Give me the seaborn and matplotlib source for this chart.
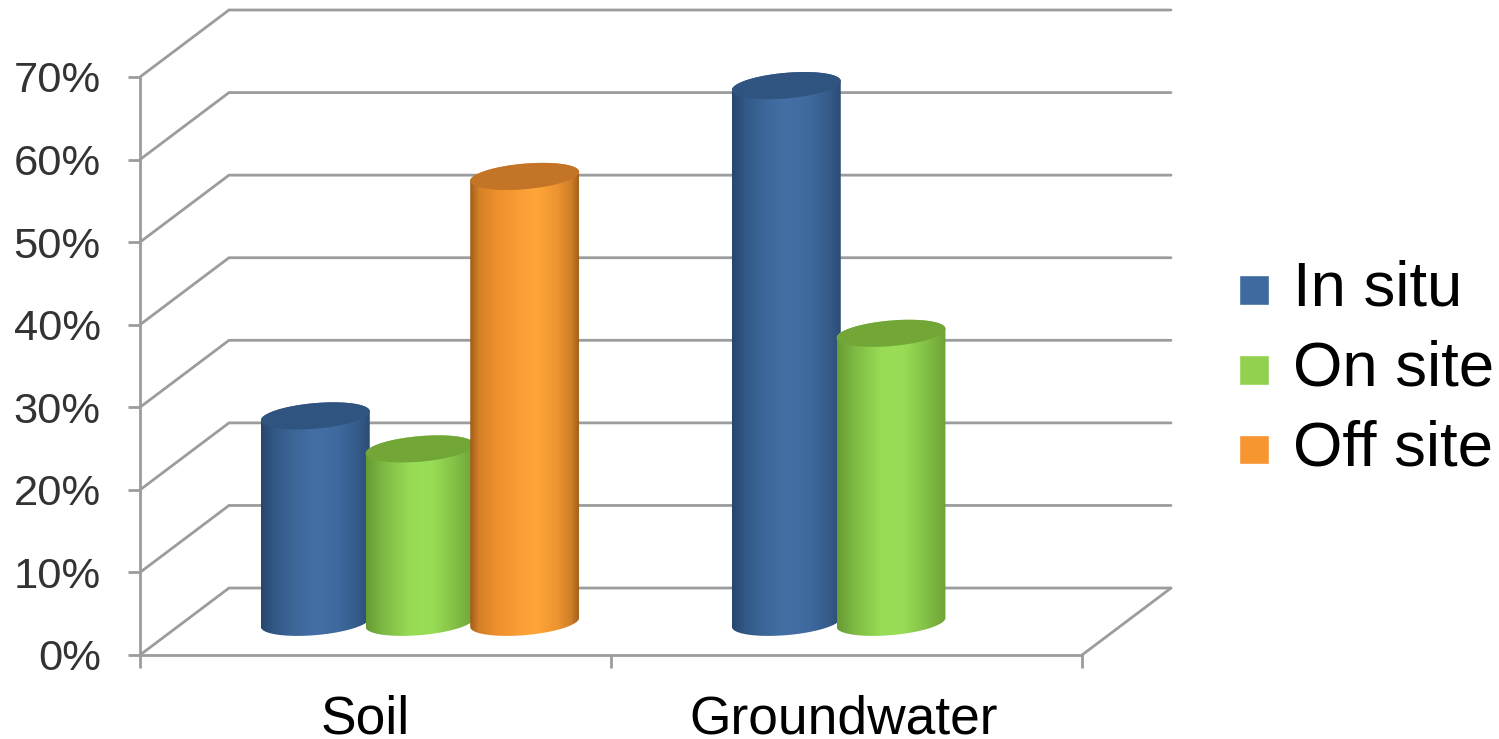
import numpy as np
import pandas as pd
import matplotlib
matplotlib.use("Agg")
import matplotlib.pyplot as plt
from matplotlib.colors import LinearSegmentedColormap
from matplotlib.path import Path
from matplotlib.patches import PathPatch
from matplotlib.transforms import ScaledTranslation
import seaborn as sns

# Share of remediation approaches by medium, in percent
categories = ["Soil", "Groundwater"]
in_situ = [25, 65]
on_site = [21, 35]
off_site = [54, np.nan]
series = ["In situ", "On site", "Off site"]
y_ticks = [0, 10, 20, 30, 40, 50, 60, 70]
y_labels = ["0%", "10%", "20%", "30%", "40%", "50%", "60%", "70%"]

# Flat colours (legend), cylinder shading stops and cap colours per series
flat_colors = ["#3F6A9F", "#92D050", "#F79530"]
shades = [
    [(0, "#27466E"), (.12, "#325885"), (.3, "#3D6799"), (.5, "#446FA6"),
     (.7, "#3F6A9F"), (.9, "#345A88"), (1, "#2B4C76")],
    [(0, "#669B33"), (.15, "#7CB843"), (.4, "#98DB55"), (.6, "#9ADE57"),
     (.8, "#85C348"), (1, "#6FA338")],
    [(0, "#A05C18"), (.08, "#D57F28"), (.25, "#F0902D"), (.6, "#FFA63A"),
     (.8, "#EE9430"), (.93, "#CF7F28"), (1, "#A3601B")],
]
cap_colors = ["#2F5480", "#72A738", "#C47426"]

GRID = "#9C9C9C"
LW = 2.0
DEPTH_X = 89 / 471      # depth of the floor in category units
DEPTH_Y = 8.11          # depth of the floor in percent units

sns.set_style("white")
plt.rcParams["font.family"] = ["Liberation Sans", "DejaVu Sans"]

df = pd.DataFrame({
    "medium": categories * 3,
    "method": [s for s in series for _ in categories],
    "share": in_situ + on_site + off_site,
})

fig = plt.figure(figsize=(14.99, 7.39), dpi=100, facecolor="white")
ax = fig.add_axes([140 / 1499, (739 - 655) / 739, (1171 - 140) / 1499, (655 - 10) / 739])

sns.barplot(data=df, x="medium", y="share", hue="method", order=categories,
            hue_order=series, palette=flat_colors, width=2 / 3, gap=0,
            saturation=1, ax=ax)

x_lo, x_hi = -0.5, 1.5
y_top = max(y_ticks)


def ellipse(cx, cy, a, t):
    """Points of a sheared ellipse, the rim of a cylinder seen from above-left."""
    b, shear = 1.55, 0.545
    return np.column_stack([cx + a * np.cos(t), cy + b * np.sin(t) + shear * np.cos(t)])


# Cylinders stand halfway back on the floor; later series sit in front
z = 4
for s_idx, container in enumerate(ax.containers):
    cmap = LinearSegmentedColormap.from_list(f"shade{s_idx}", shades[s_idx])
    for bar in container:
        h = bar.get_height()
        if not np.isfinite(h):
            bar.set_visible(False)
            continue
        cx = bar.get_x() + bar.get_width() / 2 + DEPTH_X / 2
        base = DEPTH_Y / 2 - 0.1
        a = bar.get_width() * 0.52
        bar.set_x(cx - bar.get_width() / 2)
        bar.set_y(base)
        low = ellipse(cx, base, a, np.linspace(np.pi, 2 * np.pi, 80))
        high = ellipse(cx, base + h, a, np.linspace(0, np.pi, 80))
        outline = np.vstack([low, high, low[:1]])
        body = Path(outline, closed=True)
        bar.set_zorder(z)
        bar.set_clip_path(body, transform=ax.transData)
        img = ax.imshow(np.linspace(0, 1, 256)[None, :], cmap=cmap, aspect="auto",
                        extent=[cx - a, cx + a, base - 3, base + h + 3], origin="lower",
                        zorder=z + 0.1, interpolation="bilinear")
        img.set_clip_path(body, transform=ax.transData)
        rim = ellipse(cx, base + h, a, np.linspace(0, 2 * np.pi, 160))
        ax.add_patch(PathPatch(Path(rim, closed=True), facecolor=cap_colors[s_idx],
                               edgecolor="none", zorder=z + 0.2))
        z += 1

# Back wall and side wall lines for each percent level
for level in y_ticks:
    ax.plot([x_lo, x_lo + DEPTH_X, x_hi + DEPTH_X],
            [level, level + DEPTH_Y, level + DEPTH_Y],
            color=GRID, lw=LW, zorder=1, clip_on=False, solid_joinstyle="miter")
ax.plot([x_hi, x_hi + DEPTH_X], [0, DEPTH_Y], color=GRID, lw=LW, zorder=1, clip_on=False)

ax.set_xlim(x_lo, x_hi + DEPTH_X)
ax.set_ylim(0, y_top + DEPTH_Y)
ax.set_xlabel("")
ax.set_ylabel("")

for side in ("top", "right"):
    ax.spines[side].set_visible(False)
for side in ("left", "bottom"):
    ax.spines[side].set_color(GRID)
    ax.spines[side].set_linewidth(LW)
ax.spines["left"].set_bounds(0, y_top)
ax.spines["bottom"].set_bounds(x_lo, x_hi)

ax.set_yticks(y_ticks, labels=y_labels)
ax.tick_params(axis="y", length=8.6, width=LW, color=GRID, pad=19.6, labelsize=31.3,
               labelcolor="#333333", left=True)
ax.set_xticks([x_lo, 0.5, x_hi], labels=[])
ax.set_xticks([0, 1], labels=categories, minor=True)
ax.tick_params(axis="x", which="major", length=9.4, width=LW, color=GRID, bottom=True)
ax.tick_params(axis="x", which="minor", length=0, pad=28.6, labelsize=38.4, labelcolor="black")

# Category labels sit slightly left of their tick positions
for label, shift_px in zip(ax.get_xticklabels(minor=True), [-10, -3]):
    label.set_transform(label.get_transform()
                        + ScaledTranslation(shift_px / 100, 0, fig.dpi_scale_trans))

sns.move_legend(ax, "center left", bbox_to_anchor=(1239 / 1499, 1 - 369 / 739),
                bbox_transform=fig.transFigure, title=None, frameon=False, fontsize=45.7,
                handlelength=0.47, handleheight=0.343, handletextpad=0.38,
                labelspacing=0.325, borderpad=0, borderaxespad=0, labelcolor="black")
for handle in ax.get_legend().legend_handles:
    handle.set_y(handle.get_y() - 5.2)

fig.savefig("out.png", dpi=100, facecolor="white")
